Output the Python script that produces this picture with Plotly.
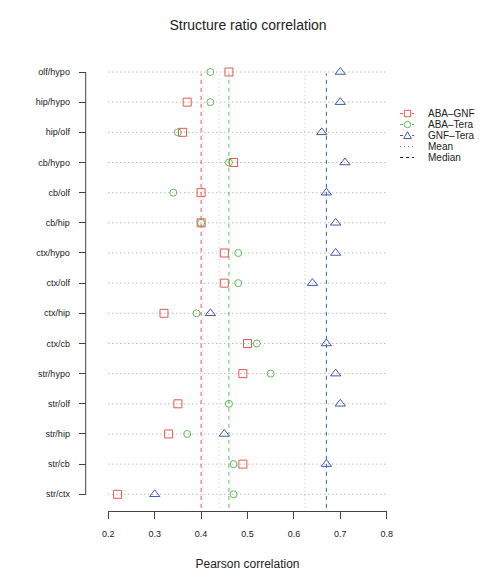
import numpy as np
import plotly.graph_objects as go

W, H = 496, 586

labels = ["olf/hypo", "hip/hypo", "hip/olf", "cb/hypo", "cb/olf", "cb/hip",
          "ctx/hypo", "ctx/olf", "ctx/hip", "ctx/cb", "str/hypo", "str/olf",
          "str/hip", "str/cb", "str/ctx"]
aba_gnf = [0.46, 0.37, 0.36, 0.47, 0.40, 0.40, 0.45, 0.45, 0.32, 0.50, 0.49, 0.35, 0.33, 0.49, 0.22]
aba_tera = [0.42, 0.42, 0.35, 0.46, 0.34, 0.40, 0.48, 0.48, 0.39, 0.52, 0.55, 0.46, 0.37, 0.47, 0.47]
gnf_tera = [0.70, 0.70, 0.66, 0.71, 0.67, 0.69, 0.69, 0.64, 0.42, 0.67, 0.69, 0.70, 0.45, 0.67, 0.30]
series_names = ["ABA\u2013GNF", "ABA\u2013Tera", "GNF\u2013Tera"]
legend_extra = ["Mean", "Median"]
x_ticks = [0.2, 0.3, 0.4, 0.5, 0.6, 0.7, 0.8]

colors = ["#E5584F", "#62B85A", "#4358A8"]
mean_colors = ["rgba(229,88,79,0.45)", "rgba(98,184,90,0.45)", "rgba(150,150,150,0.6)"]
symbols = ["square-open", "circle-open", "triangle-up-open"]
sizes = [8, 7, 9]
FONT = "Liberation Sans, Arial, Helvetica, sans-serif"
TXT = "#222222"

ypos = list(range(len(labels)))
series = [aba_gnf, aba_tera, gnf_tera]

fig = go.Figure()
for vals, name, col, sym, sz in zip(series, series_names, colors, symbols, sizes):
    fig.add_trace(go.Scatter(x=vals, y=ypos, mode="markers", showlegend=False,
                             marker=dict(symbol=sym, size=sz, color=col, line=dict(width=1, color=col)),
                             name=name, hoverinfo="x+name"))


def px(x):
    return x / W


def py(y):
    return 1 - y / H


shapes = []
annotations = []
# row dotted guide lines
for yv in ypos:
    shapes.append(dict(type="line", xref="x domain", yref="y", x0=0, x1=1, y0=yv, y1=yv,
                       line=dict(color="#A0A0A0", width=1, dash="1px,3px"), layer="below"))
# mean / median lines
for vals, col, mcol in zip(series, colors, mean_colors):
    m = float(np.mean(vals))
    md = float(np.median(vals))
    shapes.append(dict(type="line", xref="x", yref="y domain", x0=m, x1=m, y0=0.007, y1=0.96,
                       line=dict(color=mcol, width=1, dash="1px,3px")))
    shapes.append(dict(type="line", xref="x", yref="y domain", x0=md, x1=md, y0=0.007, y1=0.96,
                       line=dict(color=col, width=1, dash="4px,4px")))

# left axis line spanning only the labelled rows
yax_pos = 85.7 / W
shapes.append(dict(type="line", xref="paper", yref="y", x0=yax_pos, x1=yax_pos, y0=0, y1=len(labels) - 1,
                   line=dict(color="#444444", width=1)))

# manual legend (compact, like base R)
leg_x0, leg_x1, leg_xm, leg_tx = 400.0, 414.0, 407.5, 426.0
leg_y = [113.5, 124.5, 135.5, 146.5, 157.5]
legend_names = series_names + legend_extra
for i, name in enumerate(legend_names):
    yc = leg_y[i]
    if i < 3:
        col = colors[i]
        shapes.append(dict(type="line", xref="paper", yref="paper", x0=px(leg_x0), x1=px(leg_x1),
                           y0=py(yc), y1=py(yc), line=dict(color=col, width=1, dash="3px,3px")))
        r = 3.2
        if i == 0:
            shapes.append(dict(type="rect", xref="paper", yref="paper", x0=px(leg_xm - r), x1=px(leg_xm + r),
                               y0=py(yc + r), y1=py(yc - r), line=dict(color=col, width=1),
                               fillcolor="white"))
        elif i == 1:
            shapes.append(dict(type="circle", xref="paper", yref="paper", x0=px(leg_xm - r), x1=px(leg_xm + r),
                               y0=py(yc + r), y1=py(yc - r), line=dict(color=col, width=1),
                               fillcolor="white"))
        else:
            t = 3.8
            path = (f"M {px(leg_xm - t)},{py(yc + t * 0.8)} L {px(leg_xm + t)},{py(yc + t * 0.8)} "
                    f"L {px(leg_xm)},{py(yc - t * 1.0)} Z")
            shapes.append(dict(type="path", xref="paper", yref="paper", path=path,
                               line=dict(color=col, width=1), fillcolor="white"))
    elif name == "Mean":
        shapes.append(dict(type="line", xref="paper", yref="paper", x0=px(leg_x0), x1=px(leg_x1),
                           y0=py(yc), y1=py(yc), line=dict(color="#999999", width=1, dash="1px,3px")))
    else:
        shapes.append(dict(type="line", xref="paper", yref="paper", x0=px(leg_x0), x1=px(leg_x1),
                           y0=py(yc), y1=py(yc), line=dict(color="#222222", width=1, dash="3px,3px")))
    annotations.append(dict(text=name, xref="paper", yref="paper", x=px(leg_tx), y=py(yc),
                            xanchor="left", yanchor="middle", showarrow=False,
                            font=dict(size=10, color=TXT)))

fig.update_layout(
    width=W, height=H,
    margin=dict(l=0, r=0, t=0, b=0),
    paper_bgcolor="white", plot_bgcolor="white",
    font=dict(family=FONT, size=9, color=TXT),
    showlegend=False,
    title=dict(text="Structure ratio correlation", x=0.5, xanchor="center",
               y=py(25.5), yanchor="middle", font=dict(size=14, color=TXT)),
    xaxis=dict(domain=[px(108.3), px(386.7)], range=[0.2, 0.8], showgrid=False, zeroline=False,
               showline=True, linecolor="#444444", linewidth=1, ticks="outside", ticklen=7,
               tickcolor="#444444", tickvals=x_ticks, ticktext=[f"{v:.1f}" for v in x_ticks],
               tickfont=dict(size=9), fixedrange=True, automargin=False, ticklabelstandoff=7,
               title=dict(text="Pearson correlation", font=dict(size=12), standoff=21)),
    yaxis=dict(domain=[py(511), py(55.3)], range=[14.554, -0.554], anchor="free",
               position=yax_pos, showgrid=False, zeroline=False, showline=False,
               ticks="outside", ticklen=7, tickcolor="#444444", automargin=False,
               ticklabelstandoff=7,
               tickvals=ypos, ticktext=labels, tickfont=dict(size=9), fixedrange=True),
    shapes=shapes,
    annotations=annotations,
)

fig.write_html("out.html")
